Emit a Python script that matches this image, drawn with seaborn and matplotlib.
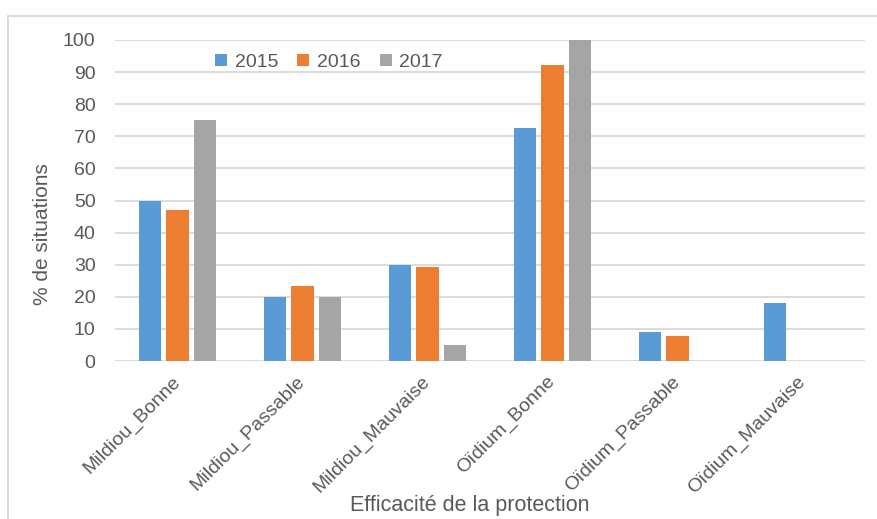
import matplotlib
matplotlib.use("Agg")
import matplotlib.pyplot as plt
from matplotlib.lines import Line2D
import seaborn as sns
import pandas as pd

categories = ["Mildiou_Bonne", "Mildiou_Passable", "Mildiou_Mauvaise",
              "Oïdium_Bonne", "Oïdium_Passable", "Oïdium_Mauvaise"]
years = ["2015", "2016", "2017"]
v2015 = [50.0, 20.0, 30.0, 72.7, 9.1, 18.2]
v2016 = [47.1, 23.5, 29.4, 92.3, 7.7, 0.0]
v2017 = [75.0, 20.0, 5.0, 100.0, 0.0, 0.0]
colors = ["#5B9BD5", "#ED7D31", "#A5A5A5"]
yticks = [0, 10, 20, 30, 40, 50, 60, 70, 80, 90, 100]

rows = []
for yr, vals in zip(years, [v2015, v2016, v2017]):
    for c, v in zip(categories, vals):
        rows.append({"cat": c, "year": yr, "val": v})
df = pd.DataFrame(rows)

sns.set_theme(style="white")
plt.rcParams["font.family"] = ["Liberation Sans", "DejaVu Sans"]

W, H = 878, 519
fig = plt.figure(figsize=(W / 100, H / 100), dpi=100)
ax = fig.add_axes([115 / W, 1 - 361 / H, (865 - 115) / W, (361 - 40) / H])

sns.barplot(data=df, x="cat", y="val", hue="year", order=categories,
            hue_order=years, palette=colors, width=0.665, gap=0.2,
            linewidth=0, saturation=1, ax=ax, legend=False, zorder=3)

ax.set_ylim(0, 100)
ax.set_xlim(-0.5, len(categories) - 0.5)
ax.set_yticks(yticks)
ax.set_yticklabels([str(t) for t in yticks], fontsize=14, color="#595959")
ax.yaxis.grid(True, color="#d9d9d9", linewidth=1.3, zorder=0)
ax.set_axisbelow(True)
for s in ax.spines.values():
    s.set_visible(False)
ax.tick_params(axis="y", length=0, pad=14)
ax.tick_params(axis="x", length=0, pad=13)
ax.set_xticks(range(len(categories)))
ax.set_xticklabels(categories, rotation=45, ha="right", va="center",
                   rotation_mode="anchor", fontsize=14, color="#595959")
ax.set_xlabel("")
ax.set_ylabel("")

fig.text(43 / W, 1 - 234 / H, "% de situations", rotation=90, ha="center",
         va="center", fontsize=15, color="#595959")
fig.text(470 / W, 1 - 506 / H, "Efficacité de la protection", ha="center",
         va="center", fontsize=15.5, color="#595959")

handles = [Line2D([0], [0], marker="s", linestyle="none", markersize=9,
                  markerfacecolor=c, markeredgewidth=0) for c in colors]
fig.legend(handles, years, loc="center", bbox_to_anchor=(328 / W, 1 - 62 / H),
           ncol=3, frameon=False, fontsize=14, handlelength=0.8,
           handletextpad=0.3, columnspacing=0.9, labelcolor="#595959")

fig.add_artist(Line2D([8 / W, 8 / W], [0, 1 - 16 / H], transform=fig.transFigure,
                      color="#d9d9d9", linewidth=1.3))
fig.add_artist(Line2D([8 / W, 1], [1 - 16 / H, 1 - 16 / H], transform=fig.transFigure,
                      color="#d9d9d9", linewidth=1.3))

fig.savefig("out.png", dpi=100)
